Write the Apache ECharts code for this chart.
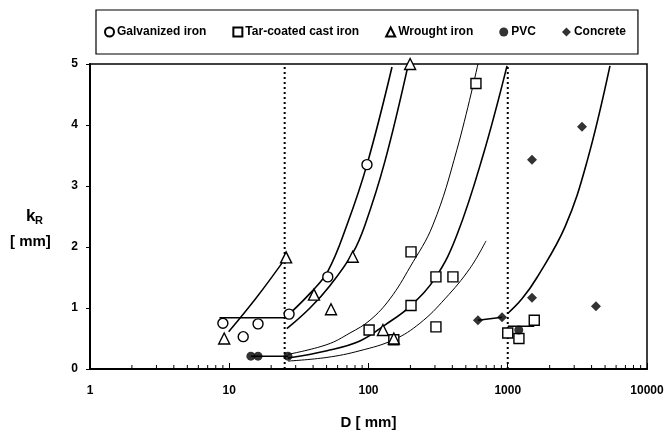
<!DOCTYPE html>
<html>
<head>
<meta charset="utf-8">
<script src="https://cdn.jsdelivr.net/npm/echarts@6/dist/echarts.min.js"></script>
<style>
  html, body { margin: 0; padding: 0; background: #fff; }
  #chart { width: 668px; height: 435px; }
</style>
</head>
<body>
<div id="chart"></div>
<script>
// measured points, D [mm] / kR [mm]
const galvD = [9, 12.6, 16.1, 26.9, 51, 97.5];
const galvK = [0.75, 0.53, 0.74, 0.90, 1.51, 3.35];
const tarD = [101, 152, 202, 202, 305, 305, 404, 591, 1000, 1203, 1550];
const tarK = [0.64, 0.48, 1.92, 1.04, 1.51, 0.69, 1.51, 4.68, 0.59, 0.50, 0.80];
const wroughtD = [9.2, 25.6, 40.6, 53.8, 77, 127, 152, 199];
const wroughtK = [0.50, 1.83, 1.22, 0.98, 1.84, 0.64, 0.50, 5.0];
const pvcD = [14.3, 16.1, 26.4, 1200];
const pvcK = [0.21, 0.21, 0.21, 0.64];
const concD = [611, 910, 1494, 1494, 3414, 4300];
const concK = [0.80, 0.85, 1.17, 3.43, 3.97, 1.03];

// fitted curves / trend lines
const galvFlatD = [8.5, 25];
const galvFlatK = [0.84, 0.84];
const galvFitD = [26.9, 38, 51, 70, 97.5, 147.5];
const galvFitK = [0.90, 1.24, 1.60, 2.36, 3.35, 4.95];
const wroughtLowD = [9.9, 15.8, 25.6];
const wroughtLowK = [0.61, 1.18, 1.83];
const wroughtFitD = [25.9, 38, 53, 77, 94, 131, 192];
const wroughtFitK = [0.66, 1.00, 1.37, 1.90, 2.35, 3.40, 4.97];
const pvcLineD = [14.3, 26.4];
const pvcLineK = [0.21, 0.21];
const pvcLine2D = [1000, 1550];
const pvcLine2K = [0.70, 0.70];
const tarFit1D = [26.4, 50.3, 73.6, 102.5, 142.6, 198.6, 290, 432, 611];
const tarFit1K = [0.24, 0.40, 0.59, 0.80, 1.15, 1.67, 2.36, 3.60, 5.0];
const tarFit2D = [26.4, 50.3, 86.8, 131, 202, 305, 432, 664, 988];
const tarFit2K = [0.18, 0.30, 0.46, 0.72, 1.04, 1.51, 2.20, 3.50, 4.97];
const tarFit3D = [26.4, 50.3, 86.8, 152, 234, 354, 535, 698];
const tarFit3K = [0.13, 0.19, 0.30, 0.48, 0.75, 1.15, 1.65, 2.10];
const concLineD = [611, 910];
const concLineK = [0.80, 0.85];
const concFitD = [1000, 1265, 1622, 2577, 3707, 5420];
const concFitK = [0.91, 1.15, 1.50, 2.33, 3.40, 4.97];

const limitD = [25, 1000];
const xTicks = [1, 10, 100, 1000, 10000];
const yTicks = [0, 1, 2, 3, 4, 5];

const FONT = "Liberation Sans, Arial, sans-serif";

function pairs(xs, ys) {
  return xs.map((x, i) => [x, ys[i]]);
}

// log minor tick positions 2..9 in each decade
const xMinor = [];
for (let d = 0; d < 4; d++) {
  for (let m = 2; m <= 9; m++) xMinor.push(m * Math.pow(10, d));
}

function markers(name, xs, ys, symbol, size, filled) {
  return {
    name: name,
    type: "scatter",
    data: pairs(xs, ys),
    symbol: symbol,
    symbolSize: size,
    itemStyle: filled
      ? { color: "#000" }
      : { color: "#fff", borderColor: "#000", borderWidth: 1.4, opacity: 1 },
    z: 5
  };
}

function curve(xs, ys, width) {
  return {
    type: "line",
    data: pairs(xs, ys),
    showSymbol: false,
    smooth: 0.4,
    lineStyle: { color: "#000", width: width },
    silent: true,
    z: 3
  };
}

const series = [
  markers("Galvanized iron", galvD, galvK, "circle", 10, false),
  markers("Tar-coated cast iron", tarD, tarK, "rect", 10, false),
  markers("Wrought iron", wroughtD, wroughtK, "triangle", 11, false),
  markers("PVC", pvcD, pvcK, "circle", 9, true),
  markers("Concrete", concD, concK, "diamond", 10, true),
  curve(galvFlatD, galvFlatK, 1.6),
  curve(galvFitD, galvFitK, 1.6),
  curve(wroughtLowD, wroughtLowK, 1.5),
  curve(wroughtFitD, wroughtFitK, 1.6),
  curve(pvcLineD, pvcLineK, 1.5),
  curve(pvcLine2D, pvcLine2K, 1.5),
  curve(tarFit1D, tarFit1K, 1),
  curve(tarFit2D, tarFit2K, 1.6),
  curve(tarFit3D, tarFit3K, 1),
  curve(concLineD, concLineK, 1.5),
  curve(concFitD, concFitK, 1.6)
];

limitD.forEach(function (d) {
  series.push({
    type: "line",
    data: [[d, yTicks[0]], [d, yTicks[yTicks.length - 1]]],
    showSymbol: false,
    silent: true,
    lineStyle: { color: "#000", width: 2, type: [2, 3] },
    z: 2
  });
});

// minor ticks on the log axis
series.push({
  type: "custom",
  silent: true,
  data: xMinor.map(v => [v, 0]),
  renderItem: function (params, api) {
    const p = api.coord([api.value(0), 0]);
    return {
      type: "line",
      shape: { x1: p[0], y1: p[1], x2: p[0], y2: p[1] - 4 },
      style: { stroke: "#000", lineWidth: 1 }
    };
  },
  clip: false,
  z: 4
});

const chart = echarts.init(document.getElementById("chart"), null, { renderer: "canvas" });
chart.setOption({
  animation: false,
  backgroundColor: "#fff",
  textStyle: { fontFamily: FONT },
  grid: {
    left: 90, right: 21, top: 64, bottom: 58,
    show: true, borderColor: "#000", borderWidth: 1.5
  },
  legend: {
    data: ["Galvanized iron", "Tar-coated cast iron", "Wrought iron", "PVC", "Concrete"],
    left: 96, top: 10,
    padding: [16, 12, 16, 8],
    itemGap: 26,
    itemWidth: 9, itemHeight: 9,
    borderColor: "#000", borderWidth: 1.2,
    textStyle: { fontFamily: FONT, fontWeight: "bold", fontSize: 12, color: "#000", padding: [0, 0, 0, -2] }
  },
  xAxis: {
    type: "log",
    logBase: 10,
    min: xTicks[0],
    max: xTicks[xTicks.length - 1],
    axisLine: { lineStyle: { color: "#000", width: 2 } },
    axisTick: { show: true, inside: true, length: 6, lineStyle: { color: "#000" } },
    axisLabel: {
      color: "#000", fontWeight: "bold", fontSize: 12, fontFamily: FONT, margin: 16,
      formatter: v => String(v)
    },
    splitLine: { show: false },
    name: "D [ mm]",
    nameLocation: "middle",
    nameGap: 46,
    nameTextStyle: { color: "#000", fontWeight: "bold", fontSize: 15, fontFamily: FONT }
  },
  yAxis: {
    type: "value",
    min: yTicks[0],
    max: yTicks[yTicks.length - 1],
    interval: 1,
    axisLine: { show: true, lineStyle: { color: "#000", width: 2 } },
    axisTick: { show: true, length: 4, lineStyle: { color: "#000" } },
    axisLabel: {
      color: "#000", fontWeight: "bold", fontSize: 12, fontFamily: FONT, margin: 12
    },
    splitLine: { show: false }
  },
  graphic: [
    {
      type: "text", left: 26, top: 208,
      style: { text: "k", fontFamily: FONT, fontWeight: "bold", fontSize: 17, fill: "#000" }
    },
    {
      type: "text", left: 35, top: 215,
      style: { text: "R", fontFamily: FONT, fontWeight: "bold", fontSize: 11, fill: "#000" }
    },
    {
      type: "text", left: 10, top: 234,
      style: { text: "[ mm]", fontFamily: FONT, fontWeight: "bold", fontSize: 15, fill: "#000" }
    }
  ],
  series: series
});
</script>
</body>
</html>
